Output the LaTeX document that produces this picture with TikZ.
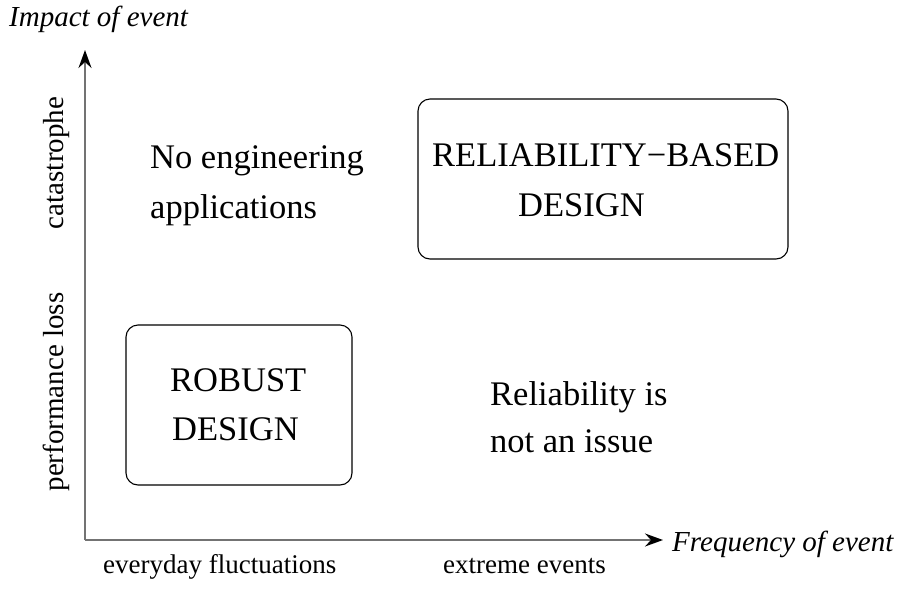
\documentclass[tikz,border=0pt]{standalone}
\usepackage{fontspec}
\setmainfont{Liberation Serif}
\usetikzlibrary{arrows.meta}
\begin{document}
\begin{tikzpicture}[x=1pt,y=-1pt,
  axis/.style={draw=black!55,line width=1.6pt,-{Stealth[black,length=18pt,width=13pt,inset=6pt]}},
  regionbox/.style={draw=black,line width=1.1pt,rounded corners=12pt,inner sep=0pt},
  bigtext/.style={inner sep=0pt,anchor=base west,font=\fontsize{34.5}{40}\selectfont},
  smalltext/.style={inner sep=0pt,anchor=base west,font=\fontsize{27}{32}\selectfont},
  sidetext/.style={inner sep=0pt,anchor=base,rotate=90,font=\fontsize{29}{32}\selectfont},
  axistitle/.style={inner sep=0pt,anchor=base west,font=\fontsize{29}{32}\selectfont\itshape}]
\useasboundingbox (0,0) rectangle (897,590);
\coordinate (origin) at (85,540);
\coordinate (ytip) at (85,50);
\coordinate (xtip) at (663,540);
\draw[axis] (origin) -- (ytip);
\draw[axis] (origin) -- (xtip);
\node[axistitle] (ytitle) at (9,26) {Impact of event};
\node[axistitle] (xtitle) at (672,551) {Frequency of event};
\node[sidetext] (cat) at (63,163) {catastrophe};
\node[sidetext] (perf) at (63,392) {performance loss};
\node[smalltext] (every) at (103,573) {everyday fluctuations};
\node[smalltext] (extreme) at (443,573) {extreme events};
\node[regionbox,minimum width=370pt,minimum height=160pt] (rbd) at (603,179) {};
\node[bigtext] (rbd1) at (432,166) {RELIABILITY\char"2212 BASED};
\node[bigtext] (rbd2) at (518,216) {DESIGN};
\node[regionbox,minimum width=226pt,minimum height=160pt] (rob) at (239,405) {};
\node[bigtext] (rob1) at (170,391) {ROBUST};
\node[bigtext] (rob2) at (172,440) {DESIGN};
\node[bigtext] (noeng1) at (150,168) {No engineering};
\node[bigtext] (noeng2) at (150,218) {applications};
\node[bigtext] (rel1) at (490,405) {Reliability is};
\node[bigtext] (rel2) at (490,452) {not an issue};
\end{tikzpicture}
\end{document}
